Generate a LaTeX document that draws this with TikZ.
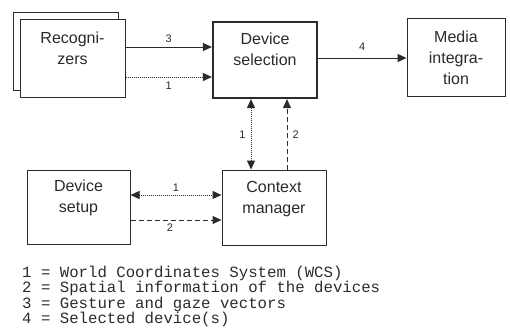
\documentclass[tikz,border=0pt]{standalone}
\usepackage{fontspec}
\usepackage{tikz}
\usetikzlibrary{arrows.meta,positioning,calc}
\newfontfamily\boxfont{Liberation Sans}
\newfontfamily\legfont{Liberation Mono}
\definecolor{ink}{HTML}{2B2B2B}
\tikzset{
  block/.style={draw=ink,fill=white,line width=1pt,align=center,text=ink,
    minimum width=104pt,minimum height=76pt,inner sep=0pt,
    font=\boxfont\fontsize{16}{21}\selectfont},
  mainblock/.style={block,line width=2.2pt},
  arrow/.style={-{Triangle[length=9pt,width=8pt]},draw=ink,line width=1pt},
  twoway/.style={{Triangle[length=9pt,width=8pt]}-{Triangle[length=9pt,width=8pt]},draw=ink,line width=1pt},
  dots/.style={dash pattern=on 1pt off 1pt},
  dashes/.style={dash pattern=on 5pt off 3pt},
  numlabel/.style={font=\boxfont\fontsize{11}{12}\selectfont,text=ink,inner sep=1pt},
  legend/.style={font=\legfont\fontsize{15.7}{16}\selectfont,text=ink,anchor=base west,inner sep=0pt}
}
\begin{document}
\begin{tikzpicture}[x=1pt,y=-1pt]
  \useasboundingbox (0,0) rectangle (510,329);
  % boxes
  \node[block,minimum width=105pt,minimum height=77pt] (recoback) at (65.5,51.5) {};
  \node[block,minimum width=105pt,minimum height=77pt] (reco) at (72.5,58.5) {Recogni-\\zers\\\mbox{}};
  \node[mainblock] (devsel) at (265,60) {Device\\selection\\\mbox{}};
  \node[block,minimum width=98pt,minimum height=77pt] (media) at (456,57.5) {Media\\integra-\\tion};
  \node[block,minimum width=103pt,minimum height=74pt] (setup) at (78.5,207) {Device\\setup\\\mbox{}};
  \node[block,minimum height=75pt] (ctx) at (274,207.5) {Context\\manager\\\mbox{}};
  % connectors
  \draw[arrow] ([yshift=11.5pt]reco.east) -- node[numlabel,above=3pt]{3} ([yshift=11.5pt]reco.east -| devsel.west);
  \draw[arrow,dots] ([yshift=-18.5pt]reco.east) -- node[numlabel,below=3pt]{1} ([yshift=-18.5pt]reco.east -| devsel.west);
  \draw[arrow] ([yshift=2pt]devsel.east) -- node[numlabel,above=6pt]{4} ([yshift=2pt]devsel.east -| media.west);
  \draw[twoway,dots] ([xshift=-14pt]devsel.south) -- node[numlabel,left=4pt]{1} ([xshift=-14pt]devsel.south |- ctx.north);
  \draw[arrow,dashes] ([xshift=13pt]ctx.north) -- node[numlabel,right=4pt]{2} ([xshift=13pt]ctx.north |- devsel.south);
  \draw[twoway,dots] ([yshift=12pt]setup.east) -- node[numlabel,above=2pt]{1} ([yshift=12pt]setup.east -| ctx.west);
  \draw[arrow,dashes] ([yshift=-13pt]setup.east) -- node[numlabel,below=2pt,xshift=-6pt]{2} ([yshift=-13pt]setup.east -| ctx.west);
  % legend
  \node[legend] (leg1) at (22,277) {1 = World Coordinates System (WCS)};
  \node[legend] (leg2) at (22,292.5) {2 = Spatial information of the devices};
  \node[legend] (leg3) at (22,308) {3 = Gesture and gaze vectors};
  \node[legend] (leg4) at (22,323.5) {4 = Selected device(s)};
\end{tikzpicture}
\end{document}
